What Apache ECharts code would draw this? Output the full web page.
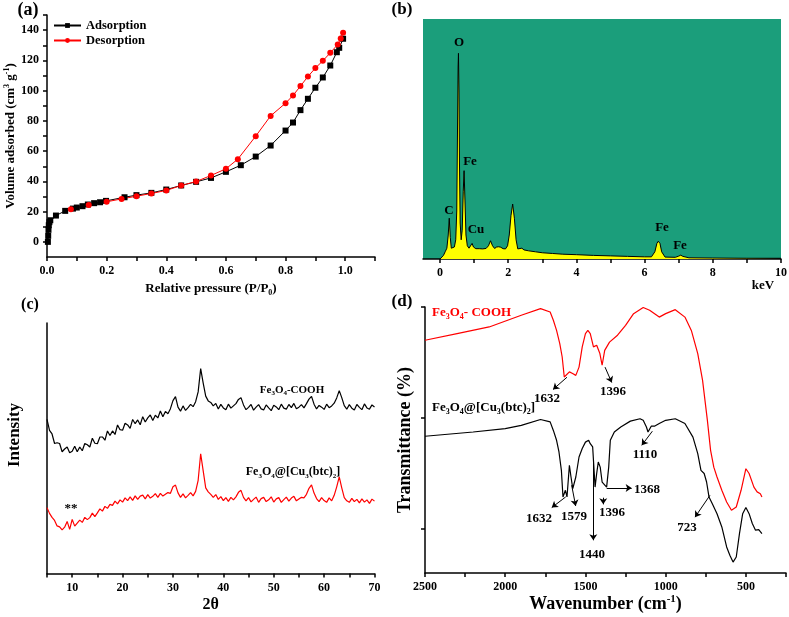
<!DOCTYPE html>
<html><head><meta charset="utf-8">
<script src="https://cdn.jsdelivr.net/npm/echarts@6/dist/echarts.min.js"></script>
<style>html,body{margin:0;padding:0;background:#fff}#c{width:789px;height:617px}</style>
</head><body><div id="c"></div><script>
// ---------- (a) N2 isotherm ----------
const adsX = [0.003,0.004,0.005,0.006,0.008,0.011,0.03,0.061,0.087,0.1,0.119,0.137,0.158,0.178,0.198,0.26,0.3,0.35,0.4,0.45,0.5,0.55,0.6,0.65,0.7,0.75,0.8,0.825,0.85,0.875,0.9,0.925,0.95,0.972,0.98,0.993];
const adsY = [0,4,8,11,13,14.3,17.4,20.5,22,22.7,23.6,24.7,25.6,26.2,27.1,29.5,30.9,32.4,34.6,37.3,39.7,42.3,46.3,50.7,56.4,63.7,73.6,78.9,87.1,94.6,101.9,108.7,116.6,125.4,128.3,134.3];
const desX = [0.08,0.14,0.2,0.25,0.3,0.35,0.4,0.45,0.5,0.55,0.6,0.64,0.7,0.75,0.8,0.825,0.85,0.875,0.9,0.925,0.95,0.975,0.985,0.993];
const desY = [21.6,24.3,26.5,28.4,30.2,32,34,37.3,39.9,43.9,48.3,54.7,69.9,83.3,91.7,96.8,103,109.3,114.9,119.7,125,130.5,134.5,138.2];
const aTicksX = [0,0.1,0.2,0.3,0.4,0.5,0.6,0.7,0.8,0.9,1.0,1.1];
const aLabelsX = [0,0.2,0.4,0.6,0.8,1.0];
const aTicksY = [0,10,20,30,40,50,60,70,80,90,100,110,120,130,140,150];
const aLabelsY = [0,20,40,60,80,100,120,140];

// ---------- (b) EDS ----------
const edsKeV = [0.0,0.05,0.1,0.15,0.2,0.24,0.27,0.30,0.33,0.38,0.42,0.46,0.49,0.51,0.53,0.54,0.555,0.57,0.59,0.62,0.65,0.68,0.705,0.73,0.76,0.8,0.85,0.9,0.94,0.98,1.05,1.15,1.25,1.35,1.42,1.48,1.54,1.6,1.66,1.72,1.78,1.85,1.92,1.98,2.03,2.08,2.13,2.18,2.23,2.28,2.33,2.4,2.46,2.6,2.8,3.0,3.3,3.6,4.0,4.5,5.0,5.5,6.0,6.2,6.3,6.36,6.4,6.45,6.5,6.6,6.9,7.0,7.06,7.12,7.3,8.0,9.0,10.0];
const edsCounts = [0,0.3,1.5,3,4.5,10,17,9,4.5,4,5,8,20,50,80,85.7,70,40,15,8,12,28,36.8,25,10,5.5,4.5,5.2,6.5,5,4.3,4.3,4.2,4.4,5.5,7.6,5.5,4.4,5,5.1,4.9,4.3,4.2,5.5,10,18,22.9,17,8,4.2,3.8,4.5,3.8,3.4,3.0,2.6,2.3,2.0,1.8,1.5,1.3,1.1,0.9,0.9,3,6.5,7.4,6.5,3,0.8,0.7,1.2,1.6,1.1,0.5,0.4,0.3,0.3];
const bTicksX = [0,1,2,3,4,5,6,7,8,9,10];
const bLabelsX = [0,2,4,6,8,10];
const edsLabels = [['O',459,43],['Fe',470,162],['C',449,211],['Cu',476,230],['Fe',662,228],['Fe',680,246]];

// ---------- (c) XRD ----------
const xrdAngle = [5,5.5,6,6.5,7,7.5,8,8.5,9,9.5,10,10.5,11,11.5,12,12.5,13,13.5,14,14.5,15,15.5,16,16.5,17,17.5,18,18.5,19,19.5,20,20.5,21,21.5,22,22.5,23,23.5,24,24.5,25,25.5,26,26.5,27,27.5,28,28.5,29,29.5,30,30.5,31,31.5,32,32.5,33,33.5,34,34.5,35,35.5,36,36.5,37,37.5,38,38.5,39,39.5,40,40.5,41,41.5,42,42.5,43,43.5,44,44.5,45,45.5,46,46.5,47,47.5,48,48.5,49,49.5,50,50.5,51,51.5,52,52.5,53,53.5,54,54.5,55,55.5,56,56.5,57,57.5,58,58.5,59,59.5,60,60.5,61,61.5,62,62.5,63,63.5,64,64.5,65,65.5,66,66.5,67,67.5,68,68.5,69,69.5,70];
const xrdCOOH = [61.5,57.1,55.7,51.9,52.2,51.9,48.6,49.7,50.5,48.2,48.8,50.8,48.6,50.5,49.0,51.9,51.4,50.5,54.0,52.0,51.8,54.5,54.5,53.2,56.9,55.1,56.9,55.5,59.3,57.4,57.2,60.0,59.3,57.9,61.5,59.8,61.3,59.4,62.6,60.5,62.1,63.3,61.1,63.2,62.1,64.9,62.6,64.7,63.8,65.8,69.0,70.6,66.4,64.8,66.9,65.1,66.2,67.5,66.6,68.6,72.5,81.8,76.0,70.8,68.9,68.3,66.9,67.9,65.7,67.5,66.1,65.4,67.6,66.0,66.9,67.8,69.5,70.2,67.3,65.4,66.3,67.5,65.2,66.4,67.4,65.7,65.3,67.3,66.1,65.0,67.2,66.5,65.4,67.6,66.0,65.6,67.5,66.2,67.9,65.8,66.4,67.4,66.1,67.8,69.6,70.7,67.6,65.7,67.1,66.4,65.5,67.6,66.2,66.9,68.0,70.1,73.0,70.2,67.0,65.6,67.4,66.0,65.3,67.5,66.3,65.4,67.7,66.1,65.6,67.3,66.5];
const xrdMOF = [26.3,24.0,22.4,21.2,19.0,18.6,17.4,18.5,20.8,17.6,21.6,18.9,20.1,21.3,20.4,22.4,21.5,22.3,24.1,22.7,24.2,25.8,24.9,26.8,26.0,27.6,27.2,28.9,27.8,29.4,28.5,30.2,29.1,30.6,29.2,31.0,29.6,30.9,31.3,29.8,31.5,30.1,30.8,31.9,30.4,32.0,30.9,31.6,32.3,32.0,34.6,35.3,32.2,30.4,31.8,30.2,31.2,32.3,31.0,32.8,37.2,47.8,41.0,34.2,32.6,31.6,30.4,31.5,29.6,30.7,29.1,30.3,28.8,30.4,29.4,30.6,32.4,33.2,30.4,29.0,30.3,28.6,29.6,30.5,28.4,29.9,30.4,28.7,29.4,30.6,28.5,29.8,30.3,28.4,29.5,30.5,28.9,30.1,30.8,29.0,29.7,30.4,30.2,31.6,34.0,35.4,32.1,29.9,28.7,30.3,29.1,28.4,30.2,29.0,31.2,34.6,38.6,34.2,30.3,29.0,28.4,30.0,28.7,29.6,28.2,29.8,28.5,29.4,28.0,29.7,28.9];
const cTicksX = [5,10,15,20,25,30,35,40,45,50,55,60,65,70];
const cLabelsX = [10,20,30,40,50,60,70];

// ---------- (d) FTIR ----------
const irCOOHw = [2500,2300,2100,1900,1780,1720,1700,1680,1660,1645,1632,1600,1580,1560,1540,1520,1500,1485,1470,1450,1430,1410,1396,1380,1350,1300,1250,1200,1140,1100,1040,1000,940,880,840,800,770,740,720,700,680,650,620,590,560,530,500,480,450,430,410,400];
const irCOOHt = [87.5,90,92.5,96.9,99.4,98.1,95,91.2,86.2,81.2,73.7,75.6,75,74.3,77.4,85,90,91.2,90,85,85.6,82.5,78.1,83.7,86.8,89.4,93.1,97.5,99.8,98.8,96.2,97.5,99,96.2,91.2,82.5,72.4,57.4,46.1,39.8,36.1,31.1,26.7,23.6,24.8,31.1,39.2,37.4,32.3,30.5,29.8,28.6];
const irMOFw = [2500,2200,2000,1900,1780,1720,1700,1680,1665,1650,1640,1632,1625,1615,1600,1590,1579,1560,1540,1520,1500,1480,1470,1455,1445,1440,1430,1420,1408,1396,1385,1368,1355,1345,1320,1280,1220,1160,1140,1120,1110,1090,1070,1040,1000,940,880,830,800,780,760,745,730,723,710,680,650,620,600,580,560,540,520,500,480,460,440,420,400];
const irMOFt = [51.4,53,54.3,55.5,57.7,56.8,53.6,49.9,45.5,38.6,28.6,28.6,31.1,28.6,40.5,36.1,31.7,36.1,43.6,46.8,49.2,49.9,48.6,47.4,37.4,32.3,37.4,41.7,39.8,34.2,33.6,32.3,39.8,49.9,53,54.9,57.1,58,57.4,54.9,53,55.2,55.2,56.2,57.4,58,56.2,51.1,44.9,38.6,37.4,34.2,28.6,29.2,26.1,22.3,17.3,9.8,6.7,4.1,6,14.8,22.3,24.6,22.3,18.6,16.1,16.3,14.8];
const dTicksX = [250,500,750,1000,1250,1500,1750,2000,2250,2500];
const dLabelsX = [500,1000,1500,2000,2500];
const dTicksY = [16.8,58.5,100];
// annotation arrows [w1,t1,w2,t2]
const irArrows = [[1615,73.6,1702,69],[1378,77.4,1336,71.6],[1083,53.3,1149,48],[1367.5,32,1212,32],[1623,28.6,1710,24.6],[1586,33,1561,25.2],[1389,28.3,1389,25.8],[1451,42.4,1451,12.3],[724,29.2,817,21]];
const irLabels = [['1632',547,399],['1396',613,392],['1110',645,455],['1368',647,490],['1632',539,519],['1579',574,517],['1396',612,513],['1440',592,555],['723',687,528]];

const FONT = '"Liberation Serif","Times New Roman",serif';
const zip = (a,b) => a.map((v,i)=>[v,b[i]]);

function axis(o) {
  const base = {
    type:'value', splitLine:{show:false},
    axisLine:{show:true,onZero:false,lineStyle:{color:'#000',width:1.5}},
    axisTick:{show:true,length:4,lineStyle:{color:'#000',width:1.5}},
    axisLabel:{color:'#000',fontFamily:FONT,fontWeight:'bold',fontSize:12},
    nameTextStyle:{color:'#000',fontFamily:FONT,fontWeight:'bold',fontSize:13}
  };
  const r = Object.assign({}, base, o);
  ['axisLine','axisTick','axisLabel','nameTextStyle'].forEach(k=>{ if(o[k]) r[k]=Object.assign({}, base[k], o[k]); });
  return r;
}
function richSet(c, size) {
  const sub = Math.round(size*0.62);
  return {
    b:{fontFamily:FONT,fontWeight:'bold',fontSize:size,color:c,fill:c,lineHeight:size+3},
    s:{fontFamily:FONT,fontWeight:'bold',fontSize:sub,color:c,fill:c,verticalAlign:'bottom',lineHeight:sub+1},
    u:{fontFamily:FONT,fontWeight:'bold',fontSize:sub,color:c,fill:c,verticalAlign:'top',lineHeight:sub+1}
  };
}
const richB = richSet('#000',13);

function txt(x,y,text,opt) {
  opt = opt||{};
  return {type:'text', x:x, y:y, z:100, silent:true, rotation:opt.rotation||0,
    style:{text:text, fill:opt.color||'#000', font:'bold '+(opt.size||13)+'px '+FONT,
      align:opt.align||'center', verticalAlign:'middle', rich:opt.rich}};
}

const chart = echarts.init(document.getElementById('c'), null, {renderer:'canvas'});
const option = {
  animation:false,
  backgroundColor:'#fff',
  grid:[
    {left:47, top:15, width:328, height:242, outerBoundsMode:'none'},
    {left:423, top:19, width:358, height:240, show:true, backgroundColor:'#1b9e7b', borderWidth:0, outerBoundsMode:'none'},
    {left:47, top:323, width:327.5, height:250.5, outerBoundsMode:'none'},
    {left:425, top:307, width:361, height:266, outerBoundsMode:'none'}
  ],
  legend:{
    data:['Adsorption','Desorption'], orient:'vertical', left:53, top:19, padding:0, itemWidth:27, itemHeight:6, itemGap:2,
    textStyle:{fontFamily:FONT,fontWeight:'bold',fontSize:12.5,color:'#000'}
  },
  xAxis:[
    axis({gridIndex:0,min:0,max:1.1,axisTick:{customValues:aTicksX},axisLabel:{customValues:aLabelsX,formatter:v=>v.toFixed(1),margin:8},
      name:'{b|Relative pressure (P/P}{s|0}{b|)}',nameLocation:'middle',nameGap:24,nameTextStyle:{rich:richB}}),
    axis({gridIndex:1,min:-0.5,max:10,axisTick:{customValues:bTicksX},axisLabel:{customValues:bLabelsX,margin:8}}),
    axis({gridIndex:2,min:5,max:70,axisTick:{customValues:cTicksX},axisLabel:{customValues:cLabelsX,margin:8},
      name:'2θ',nameLocation:'middle',nameGap:23,nameTextStyle:{fontSize:16}}),
    axis({gridIndex:3,min:250,max:2500,inverse:true,axisTick:{customValues:dTicksX},axisLabel:{customValues:dLabelsX,margin:8,formatter:v=>String(v)},
      name:'{b|Wavenumber (cm}{u|-1}{b|)}',nameLocation:'middle',nameGap:21,nameTextStyle:{rich:richSet('#000',18)}})
  ],
  yAxis:[
    axis({gridIndex:0,min:-10,max:150,axisTick:{customValues:aTicksY},axisLabel:{customValues:aLabelsY,margin:8},
      name:'{b|Volume adsorbed (cm}{u|3}{b| g}{u|-1}{b|)}',nameLocation:'middle',nameGap:28,nameTextStyle:{rich:richB}}),
    axis({gridIndex:1,min:0,max:100,show:false}),
    axis({gridIndex:2,min:0,max:100,axisTick:{show:false},axisLabel:{show:false}}),
    axis({gridIndex:3,min:0,max:100,axisTick:{customValues:dTicksY},axisLabel:{show:false},
      name:'Transmittance (%)',nameLocation:'middle',nameGap:11,nameTextStyle:{fontSize:18}})
  ],
  series:[
    {name:'Adsorption',type:'line',xAxisIndex:0,yAxisIndex:0,data:zip(adsX,adsY),symbol:'rect',symbolSize:6,
      showAllSymbol:true,lineStyle:{color:'#000',width:1},itemStyle:{color:'#000'}},
    {name:'Desorption',type:'line',xAxisIndex:0,yAxisIndex:0,data:zip(desX,desY),symbol:'circle',symbolSize:6,
      showAllSymbol:true,lineStyle:{color:'#ff0000',width:1},itemStyle:{color:'#ff0000'}},
    {name:'EDS',type:'line',xAxisIndex:1,yAxisIndex:1,data:zip(edsKeV,edsCounts),symbol:'none',
      lineStyle:{color:'#000',width:1},areaStyle:{color:'#ffff00',opacity:1}},
    {name:'XRD COOH',type:'line',xAxisIndex:2,yAxisIndex:2,data:zip(xrdAngle,xrdCOOH),symbol:'none',lineStyle:{color:'#000',width:1.2}},
    {name:'XRD MOF',type:'line',xAxisIndex:2,yAxisIndex:2,data:zip(xrdAngle,xrdMOF),symbol:'none',lineStyle:{color:'#ff0000',width:1.2}},
    {name:'IR COOH',type:'line',xAxisIndex:3,yAxisIndex:3,data:zip(irCOOHw,irCOOHt),symbol:'none',lineStyle:{color:'#ff0000',width:1.2}},
    {name:'IR MOF',type:'line',xAxisIndex:3,yAxisIndex:3,data:zip(irMOFw,irMOFt),symbol:'none',lineStyle:{color:'#000',width:1.2},
      markLine:{silent:true,symbol:['none','arrow'],symbolSize:6,label:{show:false},lineStyle:{color:'#000',width:1,type:'solid'},
        data:irArrows.map(a=>[{coord:[a[0],a[1]]},{coord:[a[2],a[3]]}])}}
  ],
  graphic:[
    txt(28,10,'(a)',{size:18}), txt(402,10,'(b)',{size:17}), txt(30,305,'(c)',{size:16}), txt(402,302,'(d)',{size:17}),
    txt(763,286,'keV',{size:13}),
    txt(15,435,'Intensity',{size:17,rotation:Math.PI/2}),
    ...edsLabels.map(l=>txt(l[1],l[2],l[0],{size:13})),
    txt(292,390,'{b|Fe}{s|3}{b|O}{s|4}{b|-COOH}',{rich:richSet('#000',11)}),
    txt(293,472,'{b|Fe}{s|3}{b|O}{s|4}{b|@[Cu}{s|3}{b|(btc)}{s|2}{b|]}',{rich:richSet('#000',12)}),
    txt(71,509,'**',{size:13}),
    txt(432,313,'{b|Fe}{s|3}{b|O}{s|4}{b|- COOH}',{align:'left',color:'#ff0000',rich:richSet('#ff0000',13)}),
    txt(432,408,'{b|Fe}{s|3}{b|O}{s|4}{b|@[Cu}{s|3}{b|(btc)}{s|2}{b|]}',{align:'left',rich:richB}),
    ...irLabels.map(l=>txt(l[1],l[2],l[0],{size:13}))
  ]
};
chart.setOption(option);
</script></body></html>
